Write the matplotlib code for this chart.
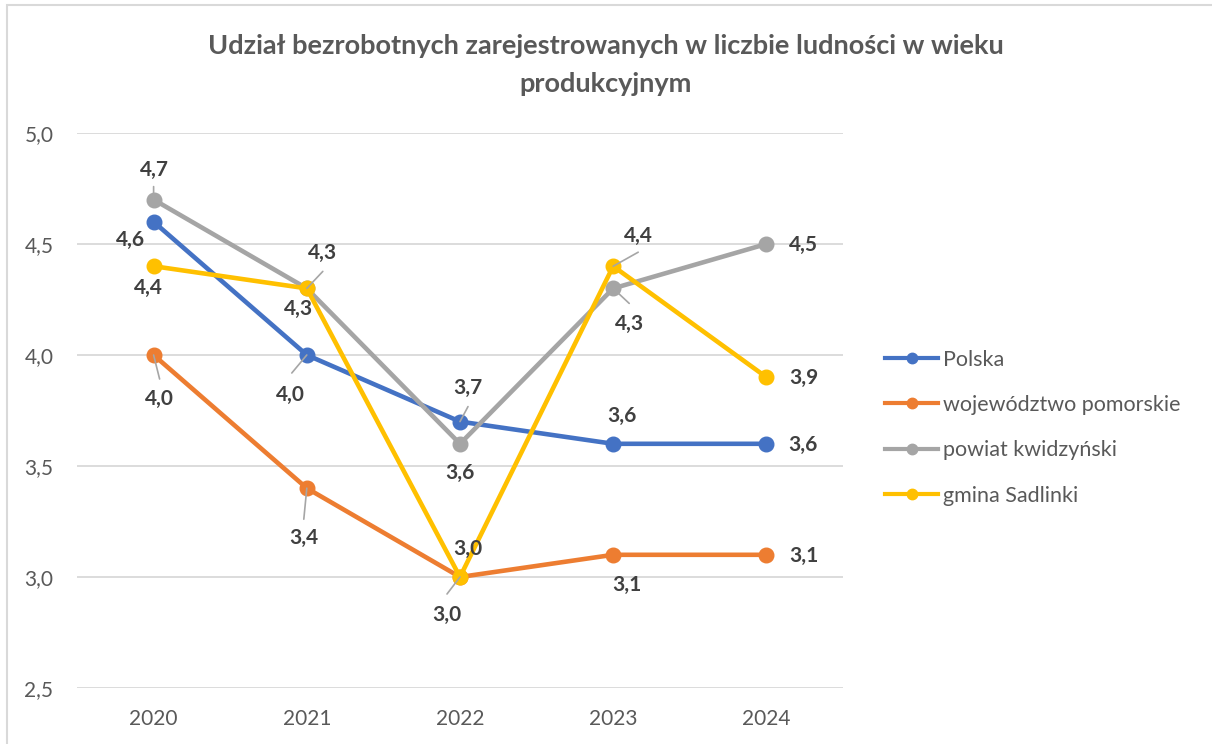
import matplotlib
matplotlib.use('Agg')
import matplotlib.pyplot as plt
from matplotlib.lines import Line2D
from matplotlib.patches import Rectangle

# ---------------- data ----------------
years = ['2020', '2021', '2022', '2023', '2024']
polska = [4.6, 4.0, 3.7, 3.6, 3.6]
pomorskie = [4.0, 3.4, 3.0, 3.1, 3.1]
kwidzynski = [4.7, 4.3, 3.6, 4.3, 4.5]
sadlinki = [4.4, 4.3, 3.0, 4.4, 3.9]
series_names = ['Polska', 'województwo pomorskie', 'powiat kwidzyński', 'gmina Sadlinki']
y_ticks = [2.5, 3.0, 3.5, 4.0, 4.5, 5.0]
title = 'Udział bezrobotnych zarejestrowanych w liczbie ludności w wieku\nprodukcyjnym'

# ---------------- style ----------------
plt.rcParams['font.family'] = ['Lato', 'DejaVu Sans']
colors = ['#4472C4', '#ED7D31', '#A5A5A5', '#FFC000']
W, H, DPI = 1212, 744, 100
PX = 72.0 / DPI  # px -> points

# label offsets in image pixels (dx right, dy down) and optional leader (from, to)
label_offsets = [
    [(-23, 18), (-16, 40), (8, -34), (9, -28), (37, 1)],
    [(6, 44), (-3, 50), (8, -28), (14, 30), (37, 1)],
    [(1, -30), (16, -35), (0, 29), (16, 36), (37, 1)],
    [(-5, 22), (-8, 21), (-13, 38), (25, -30), (37, 1)],
]
leaders = [
    [None, ((0, 0), (-15, 18)), ((1, -2), (8, -15)), None, None],
    [((0, 0), (6, 24)), ((0, 0), (-3, 31)), None, None, None],
    [((0, -8), (0, -13)), ((1, -3), (16, -17)), None, ((7, 5), (16, 15)), None],
    [None, None, ((0, 1), (-13, 17)), ((2, -1), (25, -14)), None],
]

fig = plt.figure(figsize=(W / DPI, H / DPI), dpi=DPI)
fig.patch.set_facecolor('white')
# outer chart frame (top and left visible)
fig.add_artist(Rectangle((7 / W, -0.1), 1.2, (H - 5) / H + 0.1, transform=fig.transFigure,
                         fill=False, edgecolor='#D9D9D9', linewidth=1.5))

L, R, T, B = 77, 843, 133, 688
ax = fig.add_axes([L / W, 1 - B / H, (R - L) / W, (B - T) / H])
ax.set_xlim(-0.5, len(years) - 0.5)
ax.set_ylim(y_ticks[0], y_ticks[-1])
for s in ax.spines.values():
    s.set_visible(False)
ax.set_yticks(y_ticks)
ax.set_yticklabels([f'{v:.1f}'.replace('.', ',') for v in y_ticks])
ax.set_xticks(range(len(years)))
ax.set_xticklabels(years)
ax.tick_params(axis='both', length=0, colors='#595959', labelsize=15)
ax.tick_params(axis='y', pad=17)
ax.tick_params(axis='x', pad=15)
ax.grid(axis='y', color='#D9D9D9', linewidth=1.3)
ax.set_axisbelow(True)

all_series = [polska, pomorskie, kwidzynski, sadlinki]
xs = list(range(len(years)))
handles = []
for i, (vals, c, name) in enumerate(zip(all_series, colors, series_names)):
    ax.plot(xs, vals, color=c, linewidth=3.3, marker='o', markersize=10.5,
            solid_capstyle='round', zorder=3 + i * 0.1)
    handles.append(Line2D([], [], color=c, linewidth=3, marker='o', markersize=7.5))
    for j, v in enumerate(vals):
        dx, dy = label_offsets[i][j]
        ax.annotate(f'{v:.1f}'.replace('.', ','), xy=(xs[j], v),
                    xytext=(dx * PX, -dy * PX), textcoords='offset points',
                    ha='center', va='center', fontsize=15, fontweight='bold',
                    color='#404040', zorder=6)
        ld = leaders[i][j]
        if ld is not None:
            (ax0, ay0), (ax1, ay1) = ld
            ax.annotate('', xy=(xs[j], v), xytext=(ax1 * PX, -ay1 * PX),
                        textcoords='offset points',
                        arrowprops=dict(arrowstyle='-', color='#A6A6A6', lw=1.2,
                                        shrinkA=0, shrinkB=0,
                                        relpos=(0.5, 0.5)),
                        zorder=5)

fig.text(0.5, 1 - 65 / H, title, ha='center', va='center', fontsize=19.5,
         fontweight='bold', color='#595959', linespacing=1.68)

leg = fig.legend(handles, series_names, loc='upper left',
                 bbox_to_anchor=(876 / W, 1 - 341 / H), frameon=False,
                 fontsize=15.5, labelcolor='#595959', handlelength=2.5,
                 handletextpad=0.2, labelspacing=1.18, borderaxespad=0)

fig.savefig('out.png', dpi=DPI, facecolor='white')
